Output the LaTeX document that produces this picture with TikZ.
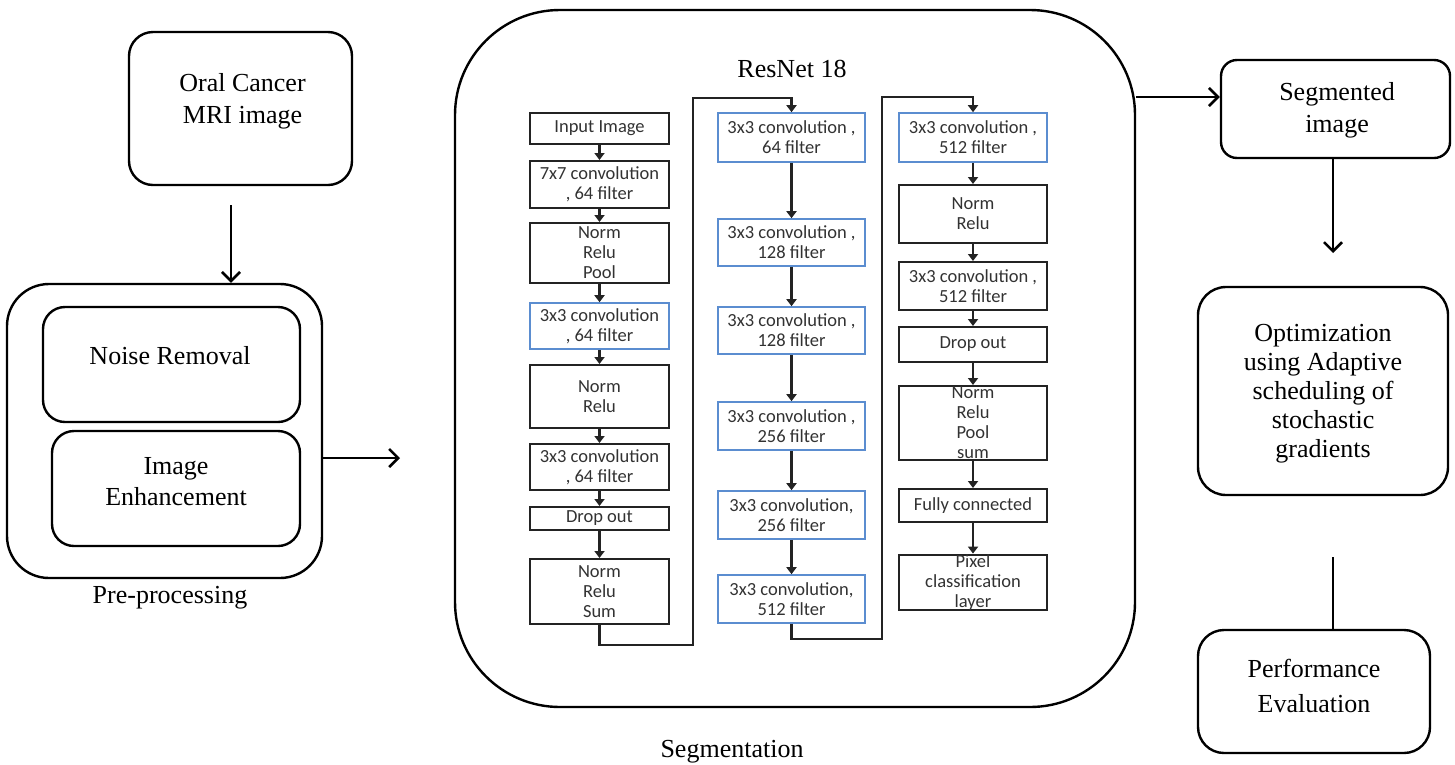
\documentclass[tikz,border=0pt]{standalone}
\usepackage{fontspec}
\setmainfont{Liberation Serif}
\newfontfamily\rnfont{Carlito}
\usetikzlibrary{arrows.meta}
\definecolor{rnblue}{RGB}{91,141,208}
\definecolor{rntext}{RGB}{50,50,50}
\definecolor{rnline}{RGB}{35,35,35}
\begin{document}
\begin{tikzpicture}[x=1pt,y=-1pt,
  mainbox/.style={draw=black, line width=2.4pt, inner sep=0pt},
  lbl/.style={font=\fontsize{26}{32}\selectfont, align=center, inner sep=0pt},
  arr/.style={line width=2.6pt, -{Straight Barb[length=9pt,width=18pt,line width=2.6pt]}},
  plain/.style={line width=2.6pt},
  rnbox/.style={draw=rnline, line width=2pt, inner sep=0pt, align=center,
    font=\rnfont\fontsize{18.5}{20}\selectfont, text=rntext},
  rnblue/.style={rnbox, draw=rnblue, line width=1.6pt},
  c1/.style={minimum width=139pt},
  c2/.style={minimum width=147pt},
  c3/.style={minimum width=148pt},
  rnarr/.style={draw=rnline, line width=2.2pt, -{Triangle[length=7pt,width=10pt]}},
]
\useasboundingbox (0,0) rectangle (1455,764);

% ---------- left: input and pre-processing ----------
\node[mainbox, rounded corners=24pt, minimum width=223pt, minimum height=153pt] (oral) at (240.5,108.5) {};
\node[lbl] (oraltxt) at (242.5,101) {Oral Cancer\\MRI image};

\node[mainbox, rounded corners=42pt, minimum width=315pt, minimum height=294pt] (pre) at (164.5,431) {};
\node[mainbox, rounded corners=22pt, minimum width=257pt, minimum height=115pt] (noise) at (171.5,364.5) {};
\node[lbl] (noisetxt) at (170,356) {Noise Removal};
\node[mainbox, rounded corners=22pt, minimum width=248pt, minimum height=115pt] (enh) at (176,488.5) {};
\node[lbl,font=\fontsize{26}{31}\selectfont] (enhtxt) at (176,482) {Image\\Enhancement};
\node[lbl, anchor=base] (pretxt) at (170,603) {Pre-processing};

\coordinate (o1) at (231,205);
\draw[arr] (o1) -- (o1 |- pre.north);

\coordinate (y458) at (0,458);
\coordinate (a1end) at (400,458);
\draw[arr] (pre.east |- y458) -- (a1end);

% ---------- segmentation box ----------
\node[mainbox, rounded corners=105pt, minimum width=680pt, minimum height=697pt] (seg) at (795,358.5) {};
\node[lbl, anchor=base] (resnet) at (792,77) {ResNet 18};
\node[lbl, anchor=base] (segtxt) at (732,757) {Segmentation};

% column 1
\node[rnbox, c1, minimum height=31pt] (a1) at (599.5,128.5) {Input Image};
\node[rnbox, c1, minimum height=47pt] (a2) at (599.5,184.5) {7x7 convolution\\, 64 filter};
\node[rnbox, c1, minimum height=60pt] (a3) at (599.5,253) {Norm\\Relu\\Pool};
\node[rnblue, c1, minimum height=46pt] (a4) at (599.5,326) {3x3 convolution\\, 64 filter};
\node[rnbox, c1, minimum height=63pt] (a5) at (599.5,396.5) {Norm\\Relu};
\node[rnbox, c1, minimum height=46pt] (a6) at (599.5,467) {3x3 convolution\\, 64 filter};
\node[rnbox, c1, minimum height=23pt] (a7) at (599.5,518.5) {Drop out};
\node[rnbox, c1, minimum height=65pt] (a8) at (599.5,591.5) {Norm\\Relu\\Sum};

% column 2
\node[rnblue, c2, minimum height=49pt] (b1) at (791.5,137.5) {3x3 convolution ,\\64 filter};
\node[rnblue, c2, minimum height=47pt] (b2) at (791.5,242.5) {3x3 convolution ,\\128 filter};
\node[rnblue, c2, minimum height=47pt] (b3) at (791.5,330.5) {3x3 convolution ,\\128 filter};
\node[rnblue, c2, minimum height=48pt] (b4) at (791.5,426) {3x3 convolution ,\\256 filter};
\node[rnblue, c2, minimum height=48pt] (b5) at (791.5,515) {3x3 convolution,\\256 filter};
\node[rnblue, c2, minimum height=48pt] (b6) at (791.5,599) {3x3 convolution,\\512 filter};

% column 3
\node[rnblue, c3, minimum height=49pt] (c1) at (973,137.5) {3x3 convolution ,\\512 filter};
\node[rnbox, c3, minimum height=58pt] (c2) at (973,214) {Norm\\Relu};
\node[rnbox, c3, minimum height=48pt] (c3) at (973,286) {3x3 convolution ,\\512 filter};
\node[rnbox, c3, minimum height=35pt] (c4) at (973,344.5) {Drop out};
\node[rnbox, c3, minimum height=74pt] (c5) at (973,423) {Norm\\Relu\\Pool\\sum};
\node[rnbox, c3, minimum height=33pt] (c6) at (973,505.5) {Fully connected};
\node[rnbox, c3, minimum height=55pt] (c7) at (973,582.5) {Pixel\\classification\\layer};

\foreach \u/\v in {a1/a2,a2/a3,a3/a4,a4/a5,a5/a6,a6/a7,a7/a8,
                   b1/b2,b2/b3,b3/b4,b4/b5,b5/b6,
                   c1/c2,c2/c3,c3/c4,c4/c5,c5/c6,c6/c7}
  \draw[rnarr] (\u.south) -- (\v.north);

\coordinate (k1) at (693,645);
\coordinate (k2) at (693,98);
\draw[rnarr] (a8.south) |- (k1) -- (k2) -| (b1.north);
\coordinate (k3) at (882,639);
\coordinate (k4) at (882,97);
\draw[rnarr] (b6.south) |- (k3) -- (k4) -| (c1.north);

% ---------- right side ----------
\node[mainbox, rounded corners=16pt, minimum width=229pt, minimum height=98pt] (segd) at (1335.5,109) {};
\node[lbl] (segdtxt) at (1337,110) {Segmented\\image};

\coordinate (y97) at (0,97);
\draw[arr] (seg.east |- y97) -- (segd.west |- y97);

\coordinate (d1) at (1333,253);
\draw[arr] (d1 |- segd.south) -- (d1);

\node[mainbox, rounded corners=28pt, minimum width=250pt, minimum height=208pt] (opt) at (1323,391) {};
\node[lbl,font=\fontsize{26}{29}\selectfont] (opttxt) at (1323,394) {Optimization\\using Adaptive\\scheduling of\\stochastic\\gradients};

\node[mainbox, rounded corners=26pt, minimum width=232pt, minimum height=123pt] (perf) at (1314,691.5) {};
\node[lbl,font=\fontsize{26}{35}\selectfont] (perftxt) at (1314,686) {Performance\\Evaluation};

\coordinate (l1) at (1333,557);
\draw[plain] (l1) -- (l1 |- perf.north);
\end{tikzpicture}
\end{document}
